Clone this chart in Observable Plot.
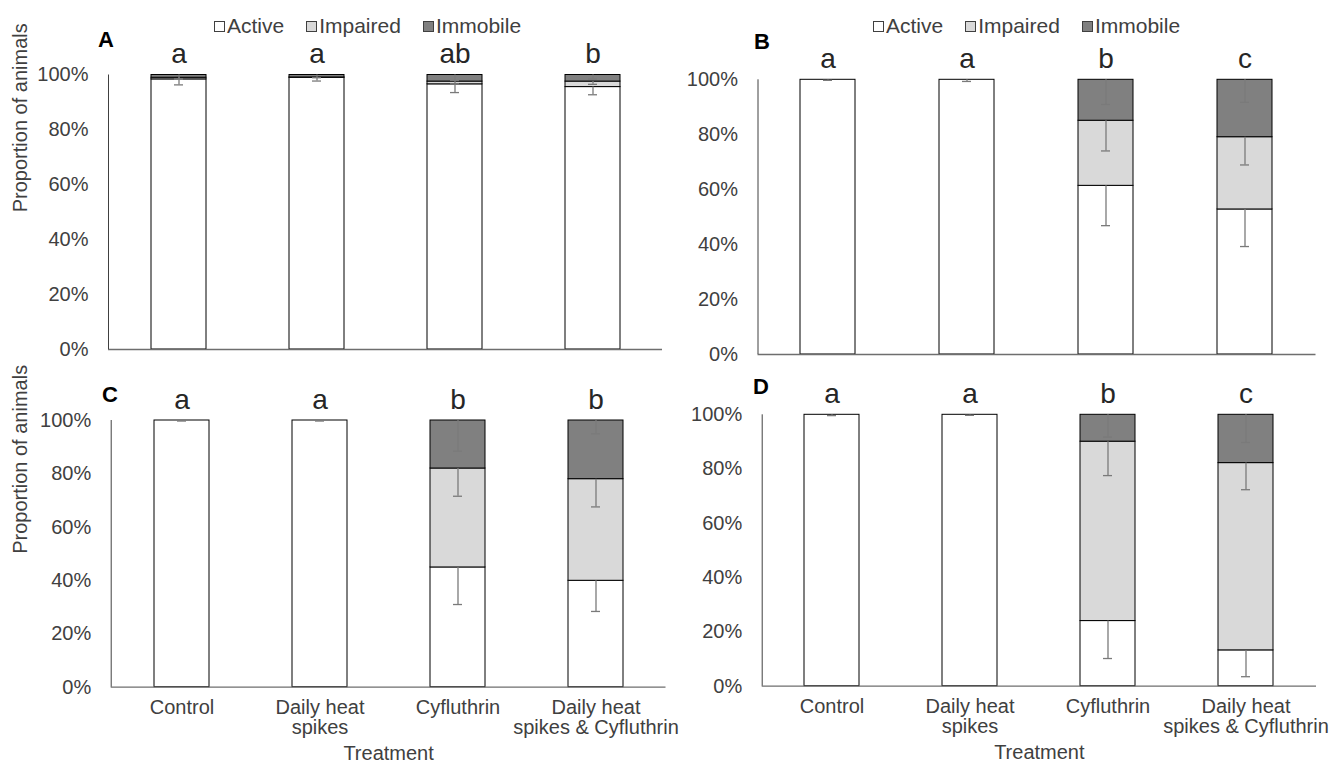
<!DOCTYPE html>
<html>
<head>
<meta charset="utf-8">
<script src="https://cdn.jsdelivr.net/npm/d3@7"></script>
<script src="https://cdn.jsdelivr.net/npm/@observablehq/plot@0.6"></script>
<style>
  body { margin: 0; background: #fff; font-family: "Liberation Sans", Arial, sans-serif; }
  #wrap { position: relative; width: 1335px; height: 765px; overflow: hidden; background: #fff; }
  .panel { position: absolute; }
  .plab { position: absolute; font-weight: bold; font-size: 22px; line-height: 22px; color: #000; }
  .legend { position: absolute; font-size: 21px; line-height: 21px; color: #404040; white-space: nowrap; }
  .legend .item { display: inline-block; margin-right: 22px; }
  .legend .sw { display: inline-block; width: 9px; height: 9px; border: 1px solid #404040; margin-right: 2px; vertical-align: 1px; }
</style>
</head>
<body>
<div id="wrap"></div>
<script>
// ---------- data ----------
const treatments = ["Control", "Daily heat spikes", "Cyfluthrin", "Daily heat spikes & Cyfluthrin"];
const tickLabels = ["Control", "Daily heat\nspikes", "Cyfluthrin", "Daily heat\nspikes & Cyfluthrin"];
const statuses = ["Active", "Impaired", "Immobile"];
const statusColors = ["#ffffff", "#d9d9d9", "#808080"];
const yTicks = [0, 20, 40, 60, 80, 100];

// Panel A
const activeA = [98.4, 99.0, 96.6, 95.6];
const impairedA = [0.6, 0.1, 1.0, 2.0];
const immobileA = [1.0, 0.9, 2.4, 2.4];
const errActiveA = [2.0, 1.2, 3.0, 2.8];
const errImpairedA = [0.5, 0, 0.8, 1.0];
const errImmobileA = [1.5, 1.0, 2.0, 1.5];
const lettersA = ["a", "a", "ab", "b"];

// Panel B
const activeB = [100, 100, 61.4, 52.8];
const impairedB = [0, 0, 23.7, 26.3];
const immobileB = [0, 0, 14.9, 20.9];
const errActiveB = [0.2, 0.6, 14.5, 13.5];
const errImpairedB = [0, 0, 11.0, 10.1];
const errImmobileB = [0, 0, 9.0, 8.2];
const lettersB = ["a", "a", "b", "c"];

// Panel C
const activeC = [100, 100, 44.9, 39.9];
const impairedC = [0, 0, 37.1, 38.1];
const immobileC = [0, 0, 18.0, 22.0];
const errActiveC = [0.2, 0.2, 13.9, 11.5];
const errImpairedC = [0, 0, 10.4, 10.4];
const errImmobileC = [0, 0, 11.5, 5.0];
const lettersC = ["a", "a", "b", "b"];

// Panel D
const activeD = [100, 100, 24.0, 13.2];
const impairedD = [0, 0, 66.1, 69.0];
const immobileD = [0, 0, 9.9, 17.8];
const errActiveD = [0.3, 0.2, 13.8, 9.7];
const errImpairedD = [0, 0, 12.5, 9.8];
const errImmobileD = [0, 0, 8.2, 10.2];
const lettersD = ["a", "a", "b", "c"];

// ---------- build ----------
function buildRows(vals, errs) {
  const rows = [];
  treatments.forEach((t, i) => {
    let cum = 0;
    statuses.forEach((s, k) => {
      const v = vals[k][i];
      rows.push({treatment: t, status: s, value: v, err: errs[k][i], bottom: cum, top: cum + v});
      cum += v;
    });
  });
  return rows;
}

function yAxisLine(index, scales, values, dims) {
  const x = dims.marginLeft + 0.5;
  return d3.create("svg:line")
    .attr("x1", x).attr("x2", x)
    .attr("y1", scales.y(0)).attr("y2", scales.y(100))
    .attr("stroke", "#404040").attr("stroke-width", 1).node();
}

function makePanel(cfg) {
  const rows = buildRows(cfg.vals, cfg.errs);
  const barRows = rows.filter(d => d.value > 0);
  const errRows = rows.filter(d => d.err > 0);
  const letterRows = treatments.map((t, i) => ({treatment: t, letter: cfg.letters[i]}));
  const marks = [
    Plot.barY(barRows, {x: "treatment", y1: "bottom", y2: "top", fill: "status", stroke: "#000", strokeWidth: 1}),
    Plot.ruleY([0], {stroke: "#6e6e6e", strokeWidth: 1.3}),
    yAxisLine,
    Plot.ruleX(errRows, {x: "treatment", y1: "top", y2: d => d.top - d.err, stroke: "#7a7a7a", strokeWidth: 1.3}),
    Plot.tickY(errRows, {x: "treatment", y: d => d.top - d.err, stroke: "#7a7a7a", strokeWidth: 1.3, inset: 23}),
    Plot.text(letterRows, {x: "treatment", y: () => 100, text: "letter", lineAnchor: "bottom", dy: -12, fontSize: 28, fill: "#262626"}),
    Plot.axisY({ticks: yTicks, tickFormat: d => d + "%", tickSize: 0, tickPadding: 20, fontSize: 20, label: null})
  ];
  if (cfg.ylabel) {
    marks.push(Plot.text(["Proportion of animals"], {text: d => d, frameAnchor: "left", rotate: -90, dx: -(cfg.marginLeft - 20), fontSize: 20, fill: "#404040"}));
  }
  if (cfg.xaxis) {
    marks.push(Plot.axisX({tickSize: 0, tickPadding: 12, fontSize: 20, lineHeight: 1.02, label: null,
      tickFormat: d => tickLabels[treatments.indexOf(d)]}));
    marks.push(Plot.text(["Treatment"], {text: d => d, frameAnchor: "bottom", lineAnchor: "bottom", dy: 73, fontSize: 20, fill: "#404040"}));
  }
  const svg = Plot.plot({
    width: cfg.width, height: cfg.height,
    marginLeft: cfg.marginLeft, marginRight: cfg.marginRight,
    marginTop: cfg.marginTop, marginBottom: cfg.marginBottom,
    x: {domain: treatments, paddingInner: 0.603, paddingOuter: 0.3015, axis: cfg.xaxis ? undefined : null},
    y: {domain: [0, 100]},
    color: {domain: statuses, range: statusColors},
    style: {background: "transparent", color: "#404040", fontFamily: "'Liberation Sans', Arial, sans-serif", fontSize: "20px", overflow: "visible"},
    marks
  });
  svg.classList.add("panel");
  svg.style.left = cfg.left + "px";
  svg.style.top = cfg.top + "px";
  svg.style.maxWidth = "none";
  document.getElementById("wrap").appendChild(svg);
}

makePanel({left: 0, top: 0, width: 668, height: 360, marginLeft: 108, marginRight: 6, marginTop: 74.5, marginBottom: 11,
  vals: [activeA, impairedA, immobileA], errs: [errActiveA, errImpairedA, errImmobileA], letters: lettersA, ylabel: true, xaxis: false});
makePanel({left: 668, top: 0, width: 667, height: 360, marginLeft: 89.5, marginRight: 19.5, marginTop: 79.3, marginBottom: 6,
  vals: [activeB, impairedB, immobileB], errs: [errActiveB, errImpairedB, errImmobileB], letters: lettersB, ylabel: false, xaxis: false});
makePanel({left: 0, top: 360, width: 668, height: 405, marginLeft: 110.7, marginRight: 2.5, marginTop: 60, marginBottom: 78.3,
  vals: [activeC, impairedC, immobileC], errs: [errActiveC, errImpairedC, errImmobileC], letters: lettersC, ylabel: true, xaxis: true});
makePanel({left: 668, top: 360, width: 667, height: 405, marginLeft: 93.7, marginRight: 19, marginTop: 54.3, marginBottom: 79.3,
  vals: [activeD, impairedD, immobileD], errs: [errActiveD, errImpairedD, errImmobileD], letters: lettersD, ylabel: false, xaxis: true});

// ---------- panel letters & legends ----------
const wrap = document.getElementById("wrap");
const panelLetters = [["A", 98, 29.4], ["B", 754, 31.4], ["C", 102, 384.4], ["D", 753, 376.4]];
panelLetters.forEach(([t, x, y]) => {
  const el = document.createElement("div");
  el.className = "plab"; el.textContent = t;
  el.style.left = x + "px"; el.style.top = y + "px";
  wrap.appendChild(el);
});
[[214, 15], [873, 15]].forEach(([x, y]) => {
  const lg = document.createElement("div");
  lg.className = "legend";
  lg.style.left = x + "px"; lg.style.top = y + "px";
  statuses.forEach((s, k) => {
    const it = document.createElement("span");
    it.className = "item";
    const sw = document.createElement("span");
    sw.className = "sw"; sw.style.background = statusColors[k];
    it.appendChild(sw);
    it.appendChild(document.createTextNode(s));
    lg.appendChild(it);
  });
  wrap.appendChild(lg);
});
</script>
</body>
</html>
